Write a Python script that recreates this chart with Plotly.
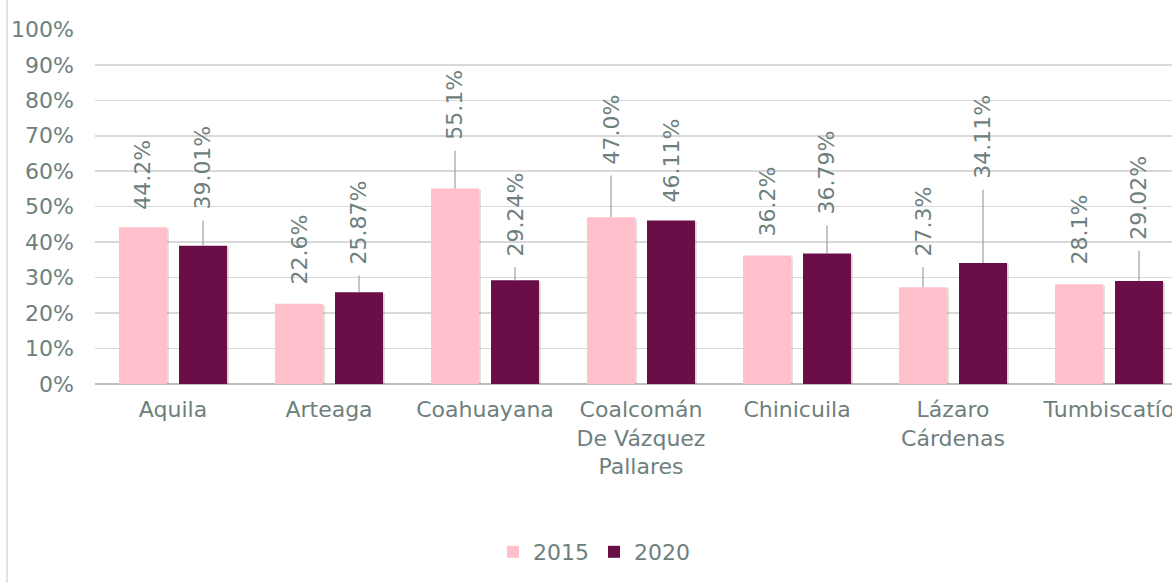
import plotly.graph_objects as go

# ---- data ----
categories = ["Aquila", "Arteaga", "Coahuayana", "Coalcomán<br>De Vázquez<br>Pallares",
              "Chinicuila", "Lázaro<br>Cárdenas", "Tumbiscatío"]
values_2015 = [0.442, 0.226, 0.551, 0.470, 0.362, 0.273, 0.281]
values_2020 = [0.3901, 0.2587, 0.2924, 0.4611, 0.3679, 0.3411, 0.2902]
labels_2015 = ["44.2%", "22.6%", "55.1%", "47.0%", "36.2%", "27.3%", "28.1%"]
labels_2020 = ["39.01%", "25.87%", "29.24%", "46.11%", "36.79%", "34.11%", "29.02%"]
y_ticks = [0, 0.1, 0.2, 0.3, 0.4, 0.5, 0.6, 0.7, 0.8, 0.9, 1.0]

# ---- label placement (layout, axis fraction where each rotated label starts) ----
label_base_2015 = [0.489, 0.278, 0.686, 0.616, 0.413, 0.357, 0.334]
label_base_2020 = [0.489, 0.334, 0.357, 0.509, 0.475, 0.576, 0.404]

PINK = "#FFC0CB"
PLUM = "#690E46"
TEXT = "#6E807D"
GRID = "#D9D9D9"
FONT = "DejaVu Sans"
FS = 22

BAR_W = 0.308
OFF_15 = -0.346
OFF_20 = 0.0385
SH = 0.012  # shadow shift

fig = go.Figure()
# soft drop shadows behind the bars
for vals, off in ((values_2015, OFF_15), (values_2020, OFF_20)):
    fig.add_trace(go.Bar(x=categories, y=[v - 0.004 for v in vals],
                         marker=dict(color="rgba(0,0,0,0.13)", line=dict(width=0)),
                         width=BAR_W, offset=off + SH, hoverinfo="skip", showlegend=False))
fig.add_trace(go.Bar(name="2015", x=categories, y=values_2015,
                     marker=dict(color=PINK, line=dict(width=0)),
                     width=BAR_W, offset=OFF_15, hoverinfo="skip"))
fig.add_trace(go.Bar(name="2020", x=categories, y=values_2020,
                     marker=dict(color=PLUM, line=dict(width=0)),
                     width=BAR_W, offset=OFF_20, hoverinfo="skip"))

annotations = []
shapes = []
for series, bases, labels, off in ((values_2015, label_base_2015, labels_2015, OFF_15),
                                   (values_2020, label_base_2020, labels_2020, OFF_20)):
    for i, (v, b, t) in enumerate(zip(series, bases, labels)):
        xc = i + off + BAR_W / 2
        annotations.append(dict(x=xc, y=b, xref="x", yref="y", text=t, textangle=-90,
                                showarrow=False, xanchor="center", yanchor="bottom",
                                font=dict(family=FONT, size=FS, color=TEXT),
                                borderpad=0))
        if b - v > 0.06:
            shapes.append(dict(type="line", xref="x", yref="y", x0=xc, x1=xc,
                               y0=v, y1=b - 0.028, line=dict(color="#A6A6A6", width=1.3),
                               layer="above"))

# left chart border
shapes.append(dict(type="line", xref="paper", yref="paper",
                   x0=(7 - 95) / 1077, x1=(7 - 95) / 1077, y0=-0.6, y1=1.1,
                   line=dict(color=GRID, width=1.5)))

fig.update_layout(
    width=1172, height=583,
    margin=dict(l=95, r=0, t=29, b=199),
    paper_bgcolor="white", plot_bgcolor="white",
    barmode="group",
    font=dict(family=FONT, size=FS, color=TEXT),
    showlegend=True,
    legend=dict(orientation="h", x=(594 - 95) / 1077, xanchor="center",
                y=(384 - 552) / 355, yanchor="middle",
                font=dict(family=FONT, size=FS, color=TEXT),
                itemwidth=30, traceorder="normal"),
    annotations=annotations,
    shapes=shapes,
)
fig.update_xaxes(range=[-0.5, -0.5 + 1077 / 156], showgrid=False, showline=False,
                 ticks="", ticklabelstandoff=10,
                 tickfont=dict(family=FONT, size=FS, color=TEXT),
                 automargin=False, fixedrange=True)
fig.update_yaxes(range=[0, 1.001], tickvals=y_ticks, tickformat=".0%",
                 showgrid=True, gridcolor=GRID, gridwidth=1.5,
                 zeroline=True, zerolinecolor="#BFBFBF", zerolinewidth=1.5,
                 showline=False, ticks="", ticklabelstandoff=20,
                 tickfont=dict(family=FONT, size=FS, color=TEXT),
                 automargin=False, fixedrange=True)

fig.write_html("out.html", config={"displayModeBar": False, "staticPlot": True},
               post_script="document.body.style.margin='0';document.body.style.overflow='hidden';")
